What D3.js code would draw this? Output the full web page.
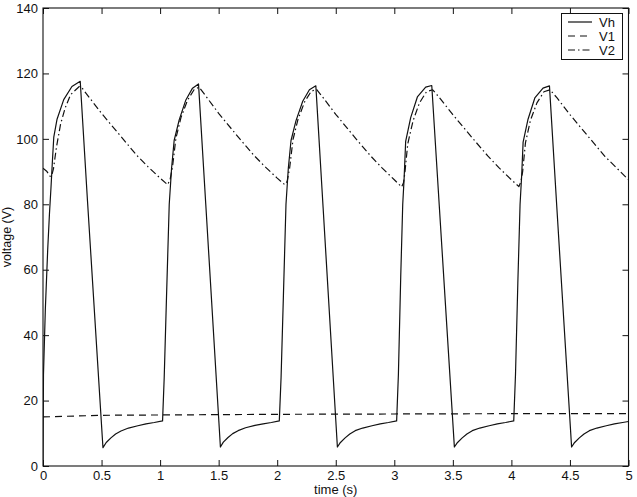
<!DOCTYPE html>
<html>
<head>
<meta charset="utf-8">
<script src="https://cdn.jsdelivr.net/npm/d3@7"></script>
<style>
  html, body { margin: 0; padding: 0; background: #fff; }
  svg { display: block; }
  text { font-family: "Liberation Sans", Arial, Helvetica, sans-serif; fill: #111; }
</style>
</head>
<body>
<svg id="chart" width="637" height="497"></svg>
<script>
// ---------- data ----------
const xTicks = [0, 0.5, 1, 1.5, 2, 2.5, 3, 3.5, 4, 4.5, 5];
const xTickLabels = ["0", "0.5", "1", "1.5", "2", "2.5", "3", "3.5", "4", "4.5", "5"];
const yTicks = [0, 20, 40, 60, 80, 100, 120, 140];
const yTickLabels = ["0", "20", "40", "60", "80", "100", "120", "140"];
const seriesNames = ["Vh", "V1", "V2"];

const vhTime = [
  0.000, 0.004, 0.020, 0.040, 0.055, 0.068, 0.080, 0.092, 0.120, 0.177, 0.247, 0.318, 0.380, 0.512, 0.540, 0.580, 0.620, 0.666, 0.730, 0.810, 0.880, 0.950, 1.021,
  1.035, 1.055, 1.078, 1.098, 1.120, 1.163, 1.220, 1.277, 1.328, 1.390, 1.515, 1.540, 1.580, 1.620, 1.666, 1.730, 1.810, 1.880, 1.950, 2.018,
  2.033, 2.053, 2.075, 2.095, 2.118, 2.160, 2.218, 2.275, 2.330, 2.392, 2.514, 2.540, 2.580, 2.620, 2.666, 2.730, 2.810, 2.880, 2.950, 3.020,
  3.035, 3.055, 3.072, 3.084, 3.097, 3.140, 3.197, 3.268, 3.320, 3.385, 3.513, 3.540, 3.580, 3.620, 3.666, 3.730, 3.810, 3.880, 3.950, 4.020,
  4.035, 4.055, 4.074, 4.088, 4.100, 4.142, 4.200, 4.270, 4.325, 4.388, 4.514, 4.540, 4.580, 4.620, 4.666, 4.730, 4.810, 4.880, 4.950, 5.000
];
const vhVolt = [
  0, 28, 48, 66, 77, 85, 93, 100.5, 106, 112, 116, 117.6, 81, 5.6, 7.2, 8.6, 9.8, 10.7, 11.6, 12.3, 12.9, 13.3, 13.8,
  27, 52, 80, 91, 99.5, 105.8, 111.9, 115.5, 116.8, 80, 5.8, 7.3, 8.7, 9.9, 10.8, 11.7, 12.4, 12.9, 13.3, 13.8,
  27, 52, 80, 91, 99.5, 105.5, 111.5, 115, 116.2, 79, 5.8, 7.2, 8.6, 9.8, 10.8, 11.6, 12.3, 12.9, 13.3, 13.8,
  28, 58, 80, 88, 99.2, 106.5, 112.8, 115.8, 116.3, 79, 5.8, 7.2, 8.6, 9.8, 10.8, 11.6, 12.3, 12.9, 13.3, 13.8,
  28, 56, 80, 89, 99, 106, 112.5, 115.5, 116.2, 79, 5.8, 7.2, 8.6, 9.8, 10.8, 11.6, 12.3, 12.9, 13.3, 13.6
];

const v1Time = [0.0, 0.5, 1.0, 1.5, 2.0, 3.0, 4.0, 5.0];
const v1Volt = [15.0, 15.5, 15.6, 15.7, 15.8, 15.9, 16.0, 16.0];

const v2Time = [
  0.000, 0.034, 0.062, 0.075, 0.090, 0.115, 0.150, 0.190, 0.235, 0.310, 0.335, 0.381, 0.500, 0.666, 0.800, 0.893, 1.000, 1.064,
  1.085, 1.106, 1.135, 1.178, 1.234, 1.290, 1.333, 1.392, 1.500, 1.666, 1.800, 1.893, 2.000, 2.064,
  2.085, 2.106, 2.135, 2.178, 2.234, 2.290, 2.335, 2.392, 2.500, 2.666, 2.800, 2.893, 3.000, 3.062,
  3.078, 3.090, 3.115, 3.160, 3.215, 3.275, 3.328, 3.385, 3.500, 3.666, 3.800, 3.893, 4.000, 4.064,
  4.082, 4.096, 4.120, 4.162, 4.218, 4.278, 4.330, 4.390, 4.500, 4.666, 4.800, 4.893, 5.000
];
const v2Volt = [
  91, 90, 88.5, 88.8, 91, 97.5, 104.5, 109.5, 113.5, 116, 115.5, 113.3, 107.8, 100.7, 95, 91.6, 88, 86,
  87.5, 91.5, 100.2, 106.5, 111.8, 115, 115.8, 113, 107.8, 100.6, 95, 91.6, 88, 86,
  87, 91, 99.8, 106, 111.3, 114.5, 115.2, 112.6, 107.5, 100.3, 94.7, 91.2, 87.5, 85.3,
  86.5, 89.5, 98.5, 105.5, 111, 114.4, 115, 112.6, 107.4, 100.3, 94.7, 91.2, 87.5, 85.4,
  87, 90, 98.8, 105.6, 111, 114.4, 115, 112.5, 107.4, 100.3, 94.6, 91.3, 87.5
];

// ---------- layout ----------
const L = 43, R = 628.5, T = 8, B = 466;
const svg = d3.select("#chart");
const x = d3.scaleLinear().domain([0, 5]).range([L, R]);
const y = d3.scaleLinear().domain([0, 140]).range([B, T]);
const ink = "#111";

svg.append("defs").append("clipPath").attr("id", "clip")
  .append("rect").attr("x", L).attr("y", T).attr("width", R - L).attr("height", B - T);

// axes with inward ticks
const tickLen = 6;
const fmtX = (d, i) => xTickLabels[i];
const fmtY = (d, i) => yTickLabels[i];

const gx = svg.append("g").attr("transform", `translate(0,${B})`)
  .call(d3.axisBottom(x).tickValues(xTicks).tickFormat(fmtX).tickSizeInner(-tickLen).tickSizeOuter(0).tickPadding(5));
const gxTop = svg.append("g").attr("transform", `translate(0,${T})`)
  .call(d3.axisTop(x).tickValues(xTicks).tickFormat("").tickSizeInner(-tickLen).tickSizeOuter(0));
const gy = svg.append("g").attr("transform", `translate(${L},0)`)
  .call(d3.axisLeft(y).tickValues(yTicks).tickFormat(fmtY).tickSizeInner(-tickLen).tickSizeOuter(0).tickPadding(5));
const gyR = svg.append("g").attr("transform", `translate(${R},0)`)
  .call(d3.axisRight(y).tickValues(yTicks).tickFormat("").tickSizeInner(-tickLen).tickSizeOuter(0));

[gx, gxTop, gy, gyR].forEach(g => {
  g.select(".domain").remove();
  g.selectAll(".tick line").attr("stroke", ink).attr("stroke-width", 1);
  g.selectAll(".tick text").style("font-size", "13px").attr("fill", ink);
});

// frame
svg.append("rect").attr("x", L).attr("y", T).attr("width", R - L).attr("height", B - T)
  .attr("fill", "none").attr("stroke", ink).attr("stroke-width", 1.1);

// series
const line = d3.line().x(d => x(d[0])).y(d => y(d[1]));
const vhData = vhTime.map((t, i) => [t, vhVolt[i]]);
const v1Data = v1Time.map((t, i) => [t, v1Volt[i]]);
const v2Data = v2Time.map((t, i) => [t, v2Volt[i]]);
const styles = [
  { data: vhData, dash: null },
  { data: v1Data, dash: "7,5" },
  { data: v2Data, dash: "7,3,1.5,3" }
];
const plot = svg.append("g").attr("clip-path", "url(#clip)");
styles.forEach(s => {
  plot.append("path").datum(s.data).attr("d", line)
    .attr("fill", "none").attr("stroke", ink).attr("stroke-width", 1.2)
    .attr("stroke-linejoin", "round")
    .attr("stroke-dasharray", s.dash);
});

// axis labels
svg.append("text").attr("x", (L + R) / 2).attr("y", 494).attr("text-anchor", "middle")
  .style("font-size", "13px").text("time (s)");
svg.append("text").attr("transform", `translate(11,${(T + B) / 2}) rotate(-90)`)
  .attr("text-anchor", "middle").style("font-size", "12.5px").text("voltage (V)");

// legend
const lg = svg.append("g");
lg.append("rect").attr("x", 561.5).attr("y", 13.5).attr("width", 61).attr("height", 46)
  .attr("fill", "#fff").attr("stroke", ink).attr("stroke-width", 1);
seriesNames.forEach((name, i) => {
  const ly = 22 + i * 14;
  lg.append("line").attr("x1", 568).attr("x2", 592).attr("y1", ly).attr("y2", ly)
    .attr("stroke", ink).attr("stroke-width", 1.2).attr("stroke-dasharray", styles[i].dash);
  lg.append("text").attr("x", 615).attr("y", ly + 4.5).attr("text-anchor", "end")
    .style("font-size", "13px").text(name);
});
</script>
</body>
</html>
